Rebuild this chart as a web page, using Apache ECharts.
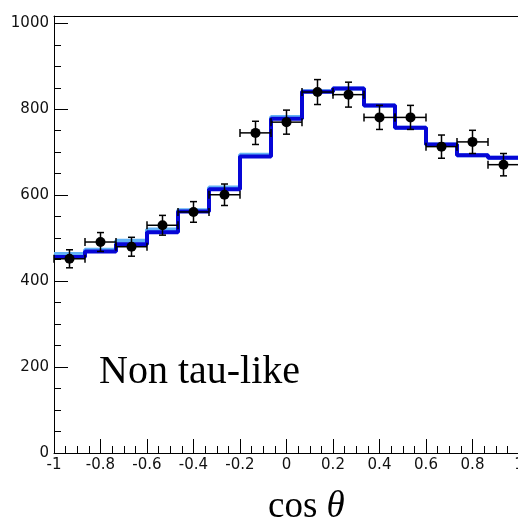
<!DOCTYPE html>
<html>
<head>
<meta charset="utf-8">
<script src="https://cdn.jsdelivr.net/npm/echarts@6/dist/echarts.min.js"></script>
<style>
  html, body { margin: 0; padding: 0; background: #fff; }
  #chart { width: 518px; height: 521px; }
</style>
</head>
<body>
<div id="chart"></div>
<script>
// cos(theta) distribution, 15 equal-width bins over [-1, 1]
const xMin = -1;
const xMax = 1;
const nBins = 15;
const yMax = 1017;
const yTickMax = 1000;

// expected yields per bin, two models (light and dark histograms)
const modelLight = [463, 473, 494, 520, 565, 618, 694, 782, 842, 848, 809, 757, 718, 693, 687];
const modelDark  = [456, 469, 486, 514, 562, 614, 690, 778, 841, 848, 809, 757, 718, 693, 687];

// observed counts and their uncertainties
const dataCounts = [452, 491, 480, 530, 561, 601, 745, 770, 840, 834, 781, 781, 713, 724, 671];
const dataErrors = [21, 22, 22, 23, 24, 25, 27, 28, 29, 29, 28, 28, 27, 27, 26];

const binWidth = (xMax - xMin) / nBins;
const edges = Array.from({ length: nBins + 1 }, (_, i) => xMin + i * binWidth);
const centers = Array.from({ length: nBins }, (_, i) => xMin + (i + 0.5) * binWidth);

function stepData(vals) {
  const pts = vals.map((v, i) => [edges[i], v]);
  pts.push([edges[nBins], vals[nBins - 1]]);
  return pts;
}

const tickFont = { fontFamily: 'DejaVu Sans', fontSize: 15, color: '#111' };
const serif = 'Liberation Serif';

const chart = echarts.init(document.getElementById('chart'), null, { renderer: 'canvas' });

chart.setOption({
  animation: false,
  backgroundColor: '#fff',
  grid: [
    // frame holding the histograms and the data points
    { left: 54, top: 16, width: 465, height: 437, outerBoundsMode: 'none', containLabel: false },
    // y-axis scale carrying ticks and labels up to 1000
    { left: 54, top: 453 - 437 * yTickMax / yMax, width: 465, height: 437 * yTickMax / yMax,
      outerBoundsMode: 'none', containLabel: false }
  ],
  xAxis: [
    {
      gridIndex: 0, type: 'value', min: xMin, max: xMax, interval: 0.2,
      axisLine: { show: true, onZero: false, lineStyle: { color: '#000', width: 1 } },
      axisTick: { show: true, inside: true, length: 14, lineStyle: { color: '#000', width: 1 } },
      minorTick: { show: true, splitNumber: 4, length: 7, lineStyle: { color: '#000', width: 1 } },
      splitLine: { show: false },
      axisLabel: Object.assign({ margin: 5, hideOverlap: false,
        formatter: v => String(Math.round(v * 10) / 10) }, tickFont)
    },
    {
      gridIndex: 0, type: 'value', min: xMin, max: xMax, position: 'top',
      axisLine: { show: true, onZero: false, lineStyle: { color: '#000', width: 1 } },
      axisTick: { show: false }, axisLabel: { show: false }, splitLine: { show: false }
    },
    { gridIndex: 1, type: 'value', min: xMin, max: xMax, show: false }
  ],
  yAxis: [
    {
      gridIndex: 0, type: 'value', min: 0, max: yMax,
      axisLine: { show: true, onZero: false, lineStyle: { color: '#000', width: 1 } },
      axisTick: { show: false }, axisLabel: { show: false }, splitLine: { show: false }
    },
    {
      gridIndex: 1, type: 'value', min: 0, max: yTickMax, interval: 200,
      axisLine: { show: false, onZero: false },
      axisTick: { show: true, inside: true, length: 14, lineStyle: { color: '#000', width: 1 } },
      minorTick: { show: true, splitNumber: 4, length: 7, lineStyle: { color: '#000', width: 1 } },
      splitLine: { show: false },
      axisLabel: Object.assign({ margin: 5, formatter: v => String(v) }, tickFont)
    }
  ],
  series: [
    {
      name: 'model light', type: 'line', step: 'end', xAxisIndex: 0, yAxisIndex: 0,
      data: stepData(modelLight), symbol: 'none', z: 2,
      lineStyle: { color: '#62b2f6', width: 4 }
    },
    {
      name: 'model dark', type: 'line', step: 'end', xAxisIndex: 0, yAxisIndex: 0,
      data: stepData(modelDark), symbol: 'none', z: 3,
      lineStyle: { color: '#0606d6', width: 4 }
    },
    {
      name: 'errors', type: 'custom', xAxisIndex: 0, yAxisIndex: 0, z: 4, clip: false,
      data: dataCounts.map((v, i) => [centers[i], v, dataErrors[i], binWidth / 2]),
      renderItem(params, api) {
        const x = api.value(0), y = api.value(1), e = api.value(2), h = api.value(3);
        const top = api.coord([x, y + e]);
        const bot = api.coord([x, y - e]);
        const l = api.coord([x - h, y]);
        const r = api.coord([x + h, y]);
        const st = { stroke: '#000', lineWidth: 1.5 };
        const seg = (x1, y1, x2, y2) => ({ type: 'line', shape: { x1, y1, x2, y2 }, style: st });
        return {
          type: 'group',
          children: [
            seg(top[0], top[1], bot[0], bot[1]),
            seg(top[0] - 3.5, top[1], top[0] + 3.5, top[1]),
            seg(bot[0] - 3.5, bot[1], bot[0] + 3.5, bot[1]),
            seg(l[0], l[1], r[0], r[1]),
            seg(l[0], l[1] - 4, l[0], l[1] + 4),
            seg(r[0], r[1] - 4, r[0], r[1] + 4)
          ]
        };
      }
    },
    {
      name: 'data', type: 'scatter', xAxisIndex: 0, yAxisIndex: 0, z: 5,
      data: dataCounts.map((v, i) => [centers[i], v]),
      symbol: 'circle', symbolSize: 10,
      itemStyle: { color: '#000', opacity: 1 }
    }
  ],
  graphic: [
    {
      type: 'text', left: 99, top: 352, z: 10,
      style: { text: 'Non tau-like', font: '40px "Liberation Serif"', fill: '#000' }
    },
    {
      type: 'text', left: 268, top: 489, z: 10,
      style: {
        text: '{a|cos }{b|θ}',
        rich: {
          a: { fontFamily: serif, fontSize: 37, color: '#000' },
          b: { fontFamily: serif, fontSize: 37, fontStyle: 'italic', color: '#000' }
        }
      }
    }
  ]
});
</script>
</body>
</html>
